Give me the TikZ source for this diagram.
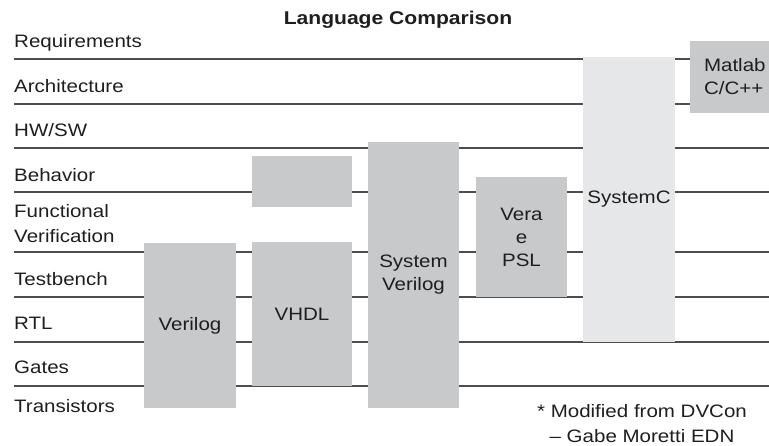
\documentclass[tikz,border=0pt]{standalone}
\usepackage{fontspec}
\setmainfont{Liberation Sans}[FakeStretch=1.14]
\usetikzlibrary{positioning}
\definecolor{boxgray}{HTML}{C8C9CA}
\definecolor{lightbox}{HTML}{E6E7E8}
\definecolor{rulegray}{HTML}{4D4D4D}
\definecolor{inkgray}{HTML}{1E1E1E}

\begin{document}
\begin{tikzpicture}[x=1pt, y=-1pt, font=\fontsize{18}{23}\selectfont, text=inkgray,
	level/.style={anchor=base west, inner sep=0pt},
	lang/.style={fill=boxgray, inner sep=0pt, align=center},
	levelline/.style={draw=rulegray, line width=1.2pt}]
	\useasboundingbox (0,0) rectangle (769,446);
	% title
	\node[anchor=base, font=\bfseries\fontsize{18.5}{23}\selectfont] (title) at (398,25) {Language Comparison};
	% abstraction levels
	\node[level] (req)		at (14,48)	{Requirements};
	\node[level] (arch)		at (14,93)	{Architecture};
	\node[level] (hwsw)		at (14,137)	{HW/SW};
	\node[level] (behav)	at (14,182)	{Behavior};
	\node[level] (func)		at (14,218)	{Functional};
	\node[level] (verif)	at (14,243)	{Verification};
	\node[level] (tbench)	at (14,286)	{Testbench};
	\node[level] (rtl)		at (14,330)	{RTL};
	\node[level] (gates)	at (14,374)	{Gates};
	\node[level] (trans)	at (14,413)	{Transistors};
	\foreach \y in {59,104,148,192,252,297,342,386}
		\draw[levelline] (14,\y) -- (769,\y);
	% languages
	\node[lang, minimum width=92pt, minimum height=165pt] (verilog)	at (190,325.5)	{Verilog};
	\node[lang, minimum width=100pt, minimum height=144pt] (vhdl)	at (302,314)	{VHDL};
	\node[lang, minimum width=100pt, minimum height=51pt] (vhdlbehav)	at (302,181.5)	{};
	\node[lang, minimum width=91pt, minimum height=266pt] (sysverilog)	at (413.5,275)	{System\\Verilog};
	\node[lang, minimum width=91pt, minimum height=120pt] (vera)	at (521.5,237)	{Vera\\e\\PSL};
	\node[lang, fill=lightbox, minimum width=92pt, minimum height=285pt] (systemc)	at (629,199.5)	{SystemC};
	\node[lang, align=left, text width=62pt, minimum width=90pt, minimum height=72pt] (matlab)	at (735,77)	{Matlab\\C/C++};
	% source
	\node[align=center, font=\fontsize{18}{25}\selectfont] (source) at (642,424) {* Modified from DVCon\\-- Gabe Moretti EDN};
\end{tikzpicture}
\end{document}
